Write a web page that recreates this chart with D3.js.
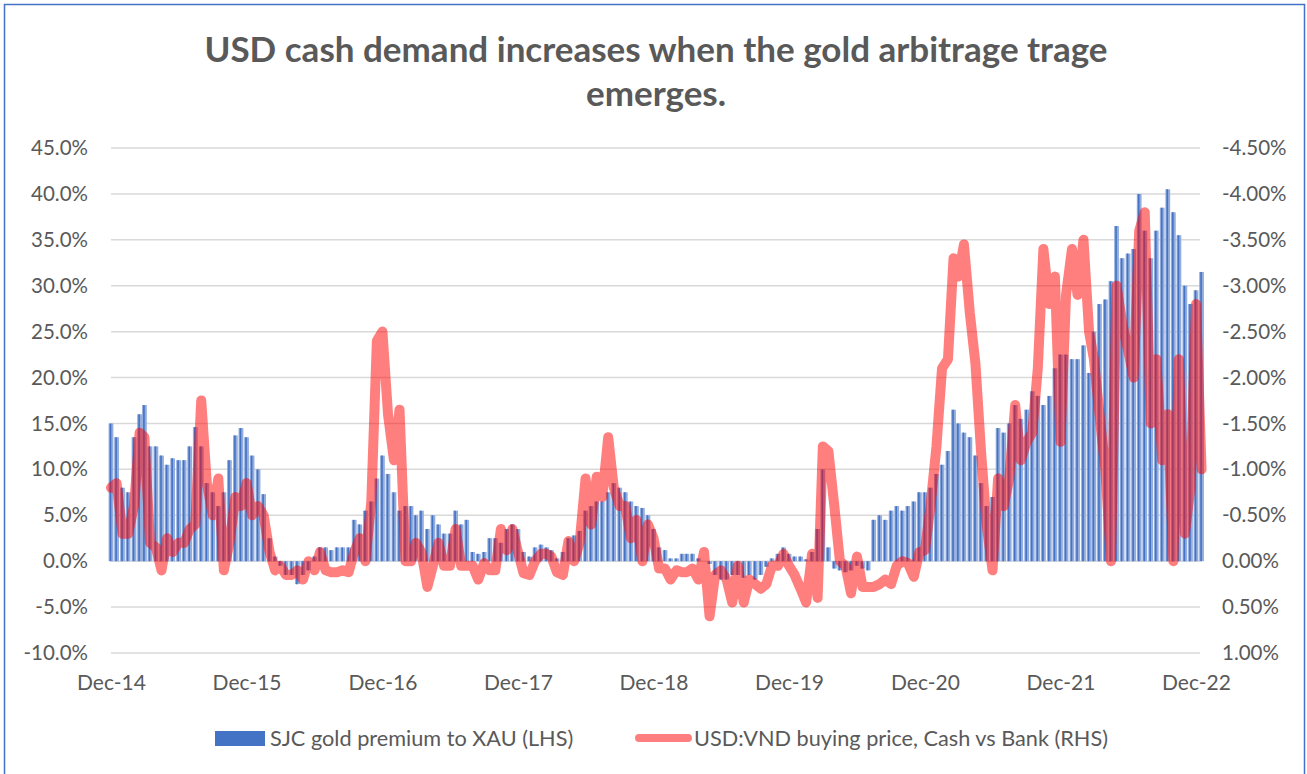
<!DOCTYPE html>
<html>
<head>
<meta charset="utf-8">
<script src="https://cdn.jsdelivr.net/npm/d3@7"></script>
<style>
  html, body { margin: 0; padding: 0; background: #fff; }
  svg { display: block; font-family: Lato, "Open Sans", sans-serif; }
</style>
</head>
<body>
<svg id="chart" width="1307" height="774"></svg>
<script>
// semi-monthly readings (1st and 16th of each month), Dec 2014 .. mid Dec 2022
const premium = [
  15.0, 13.5, 8.0, 7.5, 13.5, 16.0, 17.0, 12.5, 12.5, 11.5, 10.5, 11.2, 11.0, 11.0, 12.5, 14.6,
  12.5, 8.5, 7.5, 6.0, 7.5, 11.0, 13.7, 14.5, 13.5, 11.5, 10.0, 7.3, 2.5, 0.5, -0.5, -1.5,
  -1.5, -2.5, -1.5, -1.0, 0.5, 1.5, 1.5, 1.2, 1.5, 1.5, 1.5, 4.5, 4.0, 5.5, 6.5, 9.0,
  11.5, 9.5, 7.5, 5.5, 6.0, 6.0, 5.0, 5.5, 3.5, 5.0, 4.0, 3.0, 3.0, 5.5, 4.0, 4.5,
  1.0, 0.8, 1.0, 2.5, 2.5, 2.0, 3.5, 4.0, 3.5, 1.0, 0.5, 1.5, 1.8, 1.5, 1.2, 0.3,
  1.0, 2.5, 2.8, 3.3, 5.5, 6.0, 6.5, 6.5, 7.5, 8.5, 8.0, 7.5, 6.5, 6.0, 5.8, 5.0,
  3.5, 1.5, 1.2, 0.3, 0.3, 0.8, 0.8, 0.8, 0.3, 0.0, -0.3, -1.5, -2.0, -2.0, -1.5, -1.5,
  -1.8, -1.5, -2.0, -1.5, -0.6, 0.3, 0.8, 1.5, 0.8, 0.5, 0.5, 0.2, 1.0, 3.5, 10.0, 1.5,
  -0.8, -1.0, -1.2, -1.0, -0.5, -0.8, -1.0, 4.5, 5.0, 4.5, 5.5, 6.0, 5.5, 6.0, 6.5, 7.5,
  7.5, 8.0, 9.5, 10.5, 12.0, 16.5, 15.0, 14.0, 13.5, 11.5, 8.5, 6.0, 7.0, 14.5, 14.0, 15.0,
  17.0, 15.5, 16.5, 18.5, 18.0, 17.0, 18.0, 21.0, 22.5, 22.5, 22.0, 22.0, 23.5, 20.5, 25.0, 28.0,
  28.5, 30.5, 36.5, 33.0, 33.5, 34.0, 40.0, 36.0, 33.0, 36.0, 38.5, 40.5, 38.0, 35.5, 30.0, 28.0,
  29.5, 31.5
];

// cash vs bank spread, plotted on the reversed right axis
const cashVsBank = [
  -0.8, -0.85, -0.3, -0.3, -0.6, -1.4, -1.35, -0.2, -0.15, 0.1, -0.25, -0.1, -0.2, -0.2, -0.35, -0.4,
  -1.75, -0.85, -0.5, -0.9, 0.1, -0.2, -0.7, -0.6, -0.85, -0.5, -0.6, -0.5, -0.1, 0.1, 0.05, 0.15,
  0.15, 0.1, 0.2, 0.0, 0.1, -0.1, 0.1, 0.12, 0.12, 0.1, 0.12, -0.1, -0.25, 0.0, -0.65, -2.4,
  -2.5, -1.6, -1.1, -1.65, 0.0, 0.0, -0.2, -0.1, 0.28, 0.05, -0.2, 0.05, 0.05, -0.35, 0.05, 0.05,
  0.05, 0.2, 0.02, 0.1, 0.1, -0.35, -0.12, -0.35, -0.1, 0.13, 0.15, 0.0, -0.08, -0.08, -0.05, 0.12,
  0.15, -0.22, 0.0, -0.2, -0.9, -0.4, -0.92, -0.7, -1.35, -0.8, -0.6, -0.6, -0.25, -0.45, 0.0, -0.4,
  -0.25, 0.08, 0.08, 0.2, 0.1, 0.12, 0.12, 0.08, 0.2, -0.1, 0.6, 0.15, 0.1, 0.2, 0.45, 0.05,
  0.45, 0.2, 0.25, 0.3, 0.25, 0.05, 0.05, -0.08, 0.05, 0.15, 0.3, 0.45, -0.08, 0.4, -1.25, -1.2,
  -0.6, 0.0, 0.05, 0.35, -0.05, 0.28, 0.28, 0.28, 0.25, 0.2, 0.25, 0.05, 0.0, 0.02, 0.17, -0.1,
  -0.12, -0.6, -1.25, -2.1, -2.2, -3.3, -3.1, -3.45, -2.7, -2.15, -1.2, -0.4, 0.1, -0.9, -0.6, -0.9,
  -1.7, -1.1, -1.3, -1.4, -2.1, -3.4, -2.8, -3.1, -1.3, -2.9, -3.4, -2.9, -3.5, -2.5, -2.2, -1.6,
  -1.0, 0.0, -3.0, -2.6, -2.3, -2.0, -3.6, -3.8, -1.5, -2.2, -1.1, -1.6, 0.0, -2.2, -0.3, -0.8,
  -2.8, -1.0
];

const leftTicks = [45, 40, 35, 30, 25, 20, 15, 10, 5, 0, -5, -10];
const rightTicks = [-4.5, -4.0, -3.5, -3.0, -2.5, -2.0, -1.5, -1.0, -0.5, 0.0, 0.5, 1.0];
const yearLabels = ["Dec-14", "Dec-15", "Dec-16", "Dec-17", "Dec-18", "Dec-19", "Dec-20", "Dec-21", "Dec-22"];

const titleLines = ["USD cash demand increases when the gold arbitrage trage", "emerges."];
const seriesNames = ["SJC gold premium to XAU (LHS)", "USD:VND buying price, Cash vs Bank (RHS)"];

// dates for each reading: 1st and 16th of each month
const dates = premium.map((_, i) => new Date(2014, 11 + Math.floor(i / 2), i % 2 ? 16 : 1));

const svg = d3.select("#chart");
const textColor = "#595959";
const fmt = d3.formatLocale({ decimal: ".", thousands: ",", grouping: [3], currency: ["", ""], minus: "-" });

svg.append("rect")
  .attr("x", 0).attr("y", 0).attr("width", 1307).attr("height", 774).attr("fill", "#fff");
svg.append("rect")
  .attr("x", 4.5).attr("y", 4.5).attr("width", 1300).attr("height", 800)
  .attr("fill", "none").attr("stroke", "#4472c4").attr("stroke-width", 1.5);

const plot = { left: 111, right: 1200, top: 148, bottom: 653 };

const x = d3.scaleTime()
  .domain([new Date(2014, 11, 1), new Date(2022, 11, 1)])
  .range([111, 1196]);
const yL = d3.scaleLinear().domain([-10, 45]).range([plot.bottom, plot.top]);
const yR = d3.scaleLinear().domain([1.0, -4.5]).range([plot.bottom, plot.top]);

// gridlines
svg.append("g")
  .selectAll("line")
  .data(leftTicks)
  .enter()
  .append("line")
  .attr("x1", plot.left).attr("x2", plot.right)
  .attr("y1", (d) => yL(d)).attr("y2", (d) => yL(d))
  .attr("stroke", "#d9d9d9").attr("stroke-width", 1.5);

// left axis
const axL = svg.append("g")
  .attr("transform", `translate(${plot.left},0)`)
  .call(d3.axisLeft(yL).tickValues(leftTicks).tickSize(0).tickPadding(23)
    .tickFormat((v) => fmt.format(".1f")(v) + "%"));
axL.select(".domain").remove();
axL.selectAll("text").attr("fill", textColor).attr("font-size", 20.5).attr("font-family", "Lato, sans-serif");

// right axis
const axR = svg.append("g")
  .attr("transform", `translate(${plot.right},0)`)
  .call(d3.axisRight(yR).tickValues(rightTicks).tickSize(0).tickPadding(22)
    .tickFormat((v) => fmt.format(".2f")(v) + "%"));
axR.select(".domain").remove();
axR.selectAll("text").attr("fill", textColor).attr("font-size", 20.5).attr("font-family", "Lato, sans-serif");

// bottom axis
const decDates = yearLabels.map((_, i) => new Date(2014 + i, 11, 1));
const axB = svg.append("g")
  .attr("transform", `translate(0,${plot.bottom})`)
  .call(d3.axisBottom(x).tickValues(decDates).tickSize(0).tickPadding(22)
    .tickFormat((d, i) => yearLabels[i]));
axB.select(".domain").remove();
axB.selectAll("text").attr("fill", textColor).attr("font-size", 21).attr("font-family", "Lato, sans-serif");

// bars
const step = x(dates[1]) - x(dates[0]);
const bars = svg.append("g");
bars.selectAll("rect")
  .data(premium)
  .enter()
  .append("rect")
  .attr("x", (d, i) => x(dates[i]) - step / 2 + 0.4)
  .attr("width", step - 0.8)
  .attr("y", (d) => yL(Math.max(0, d)))
  .attr("height", (d) => Math.abs(yL(d) - yL(0)))
  .attr("fill", "#93addd");
bars.selectAll("line")
  .data(premium)
  .enter()
  .append("line")
  .attr("x1", (d, i) => x(dates[i]) - 0.5)
  .attr("x2", (d, i) => x(dates[i]) - 0.5)
  .attr("y1", (d) => yL(0))
  .attr("y2", (d) => yL(d))
  .attr("stroke", "#4472c4")
  .attr("stroke-width", 1.6);

// red line
const line = d3.line()
  .x((d, i) => x(dates[i]))
  .y((d) => yR(d));
svg.append("path")
  .datum(cashVsBank)
  .attr("fill", "none")
  .attr("stroke", "#ff0000")
  .attr("stroke-opacity", 0.5)
  .attr("stroke-width", 10)
  .attr("stroke-linejoin", "round")
  .attr("stroke-linecap", "round")
  .attr("d", line);

// title
const title = svg.append("g");
titleLines.forEach((t, i) => {
  title.append("text")
    .attr("x", 656)
    .attr("y", 62 + i * 44)
    .attr("text-anchor", "middle")
    .attr("font-size", 35)
    .attr("font-weight", "bold")
    .attr("fill", textColor)
    .text(t);
});

// legend
const legend = svg.append("g");
legend.append("rect")
  .attr("x", 215).attr("y", 731).attr("width", 50).attr("height", 15)
  .attr("fill", "#4472c4");
legend.append("text")
  .attr("x", 270).attr("y", 746)
  .attr("font-size", 21.7).attr("fill", textColor)
  .text(seriesNames[0]);
legend.append("line")
  .attr("x1", 639).attr("x2", 688).attr("y1", 738).attr("y2", 738)
  .attr("stroke", "#ff0000").attr("stroke-opacity", 0.5)
  .attr("stroke-width", 8).attr("stroke-linecap", "round");
legend.append("text")
  .attr("x", 694).attr("y", 746)
  .attr("font-size", 21.7).attr("fill", textColor)
  .text(seriesNames[1]);
</script>
</body>
</html>
